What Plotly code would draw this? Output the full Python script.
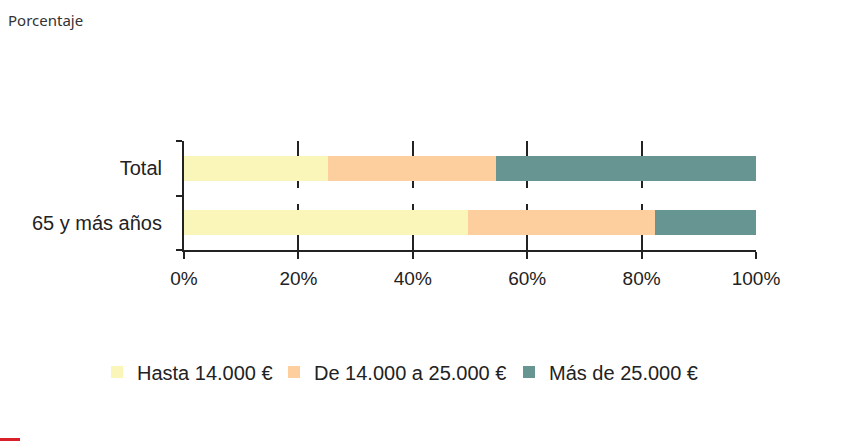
import plotly.graph_objects as go

categories = ["65 y más años", "Total"]
series_names = ["Hasta 14.000 €", "De 14.000 a 25.000 €", "Más de 25.000 €"]
hasta_14000 = [49.7, 25.1]
de_14000_a_25000 = [32.6, 29.5]
mas_de_25000 = [17.7, 45.4]
colors = ["#FAF5B8", "#FDCF9E", "#679692"]
x_tickvals = [0, 20, 40, 60, 80, 100]
x_ticktext = ["0%", "20%", "40%", "60%", "80%", "100%"]
grid_vals = [20, 40, 60, 80]
legend_ids = ["legend", "legend2", "legend3"]
legend_px = [97, 274, 509]

W, H = 851, 441
L, R, T, B = 184, 95, 141, 191
pw, ph = W - L - R, H - T - B

fig = go.Figure()
for name, vals, col, lg in zip(series_names, [hasta_14000, de_14000_a_25000, mas_de_25000], colors, legend_ids):
    fig.add_trace(go.Bar(
        y=categories, x=vals, name=name, orientation="h",
        marker=dict(color=col, line=dict(width=0)),
        width=0.45, legend=lg,
    ))
# dummy trace so the overlaid gridline axis exists
fig.add_trace(go.Scatter(x=[None], y=[None], xaxis="x2", showlegend=False,
                         hoverinfo="skip", mode="markers"))

legend_common = dict(orientation="h", xref="container", xanchor="left",
                     yref="container", y=1 - 372 / H, yanchor="middle",
                     font=dict(size=20, color="#222222"), itemclick=False,
                     itemwidth=30, bgcolor="rgba(0,0,0,0)")

fig.update_layout(
    width=W, height=H,
    margin=dict(l=L, r=R, t=T, b=B, pad=0),
    paper_bgcolor="white", plot_bgcolor="white",
    barmode="stack",
    font=dict(family="Liberation Sans, Arial, sans-serif", color="#222222"),
    title=dict(text="Porcentaje", x=8 / W, xref="container", xanchor="left",
               y=1 - 21 / H, yref="container", yanchor="middle",
               font=dict(family="Noto Sans, sans-serif", size=15, color="#333333")),
    xaxis=dict(range=[0, 100], tickmode="array", tickvals=x_tickvals, ticktext=x_ticktext,
               showgrid=False, zeroline=False, showline=True, linecolor="#222222", linewidth=2,
               ticks="outside", ticklen=7, tickwidth=2, tickcolor="#222222",
               tickfont=dict(size=19, color="#222222"), ticklabelstandoff=3, fixedrange=True),
    xaxis2=dict(range=[0, 100], overlaying="x", anchor="y", tickmode="array",
                tickvals=grid_vals, showticklabels=False, ticks="",
                showgrid=True, gridcolor="#222222", gridwidth=2, griddash="47px,16px,60px",
                zeroline=False, showline=False),
    yaxis=dict(range=[-0.5, 1.5], showgrid=False, zeroline=False, showline=True,
               linecolor="#222222", linewidth=2, ticks="outside", ticklen=6, tickwidth=2,
               tickcolor="#222222", tickson="boundaries",
               tickfont=dict(size=20, color="#222222"), ticklabelstandoff=16),
    legend=dict(x=legend_px[0] / W, **legend_common),
    legend2=dict(x=legend_px[1] / W, **legend_common),
    legend3=dict(x=legend_px[2] / W, **legend_common),
    showlegend=True,
    shapes=[dict(type="rect", xref="paper", yref="paper",
                 x0=(0 - L) / pw, x1=(20 - L) / pw,
                 y0=(H - B - 441) / ph, y1=(H - B - 438) / ph,
                 fillcolor="#D9202A", line=dict(width=0), layer="above")],
)

fig.write_html("out.html", config={"displayModeBar": False},
               post_script="document.body.style.margin='0';document.body.style.overflow='hidden';")
